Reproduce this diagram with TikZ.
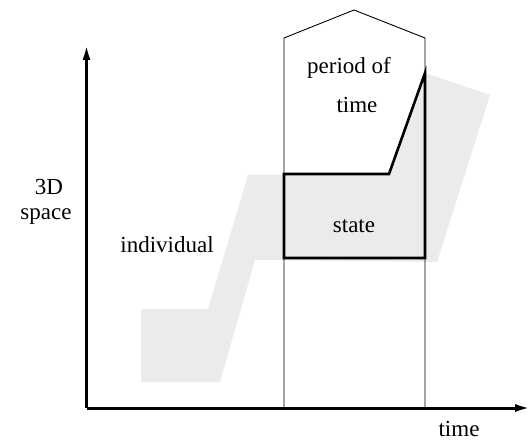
\documentclass[tikz,border=0pt]{standalone}
\usepackage{fontspec}
\setmainfont{Liberation Serif}
\usetikzlibrary{arrows.meta}
\begin{document}
\begin{tikzpicture}[x=1pt,y=-1pt,
  lbl/.style={font=\fontsize{23}{26}\selectfont, inner sep=0pt},
  axis/.style={line width=3pt, -{Latex[length=16pt,width=8pt]}},
  thin/.style={line width=0.9pt},
  thick/.style={line width=2.6pt, line join=miter},
  region/.style={fill=black!8, draw=none}]
\useasboundingbox (0,0) rectangle (532,446);
% grey individual
\fill[region] (141,309) -- (208,309) -- (248,175) -- (389,175) -- (425,73) -- (490,95)
  -- (437,262) -- (255,260) -- (220,382) -- (141,382) -- cycle;
% period of time
\draw[thin] (284,408) -- (284,38) -- (354,10) -- (425,38) -- (425,408);
% state
\draw[thick] (284,258) -- (284,174) -- (389,174) -- (425,73) -- (425,258) -- cycle;
% axes
\coordinate (o) at (86.5,408);
\coordinate (ytip) at (86.5,44);
\coordinate (xtip) at (531,408);
\draw[axis] (o) -- (ytip);
\draw[axis] (o) -- (xtip);
% labels
\node[lbl] (d3) at (49,187) {3D};
\node[lbl] (sp) at (46,217) {space};
\node[lbl] (ind) at (167,245) {individual};
\node[lbl] (st) at (354,226) {state};
\node[lbl] (pof) at (349,68) {period of};
\node[lbl] (pt) at (357,105) {time};
\node[lbl] (tm) at (459,429) {time};
\end{tikzpicture}
\end{document}
